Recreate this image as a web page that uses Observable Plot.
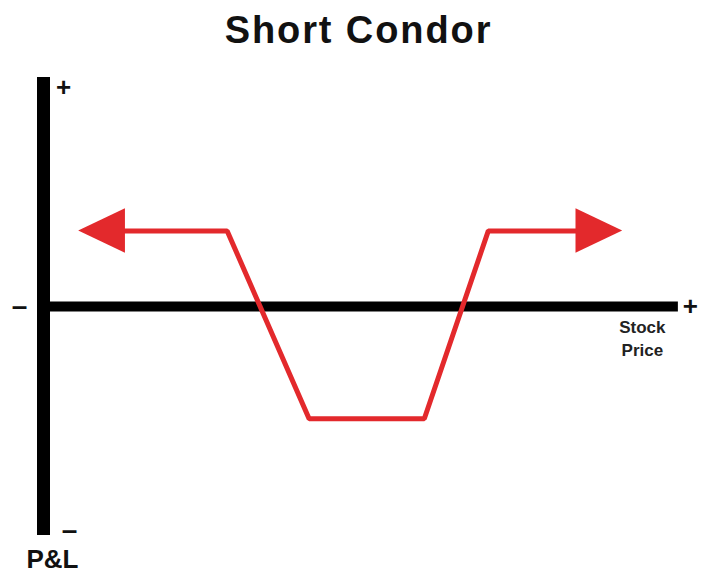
<!DOCTYPE html>
<html>
<head>
<meta charset="utf-8">
<script src="https://cdn.jsdelivr.net/npm/d3@7"></script>
<script src="https://cdn.jsdelivr.net/npm/@observablehq/plot@0.6"></script>
<style>
  html, body { margin: 0; padding: 0; background: #fff; }
  #title { height: 60px; line-height: 60px; text-align: center; font-family: "Liberation Sans", Arial, sans-serif; font-weight: bold; font-size: 38px; letter-spacing: 1.9px; color: #111; padding-left: 16px; }
</style>
</head>
<body>
<div id="title">Short Condor</div>
<div id="chart"></div>
<script>
// Payoff profile (stock price vs P&L, arbitrary units)
const price = [6, 28.7, 41.5, 59.5, 69.5, 90];
const pnl   = [0.33, 0.33, -0.49, -0.49, 0.33, 0.33];
// Axis extents
const priceDomain = [0, 100];
const pnlDomain = [-1, 1];
const axisEnd = 99.2;
// Axis labels
const labels = [
  {x: 0, y: 1, text: "+", dx: 20, dy: 10, size: 26},
  {x: 0, y: 0, text: "–", dx: -24, dy: 0, size: 28},
  {x: axisEnd, y: 0, text: "+", dx: 12, dy: 0, size: 26},
  {x: 0, y: -1, text: "–", dx: 26, dy: -5, size: 28},
  {x: 0, y: -1, text: "P&L", dx: 9, dy: 24, size: 26}
];
const stockLabel = ["Stock", "Price"];

const line = price.map((p, i) => ({price: p, pnl: pnl[i]}));

// Arrowheads at both ends of the payoff line
const headLen = 7.3, headHalf = 0.097;
const first = line[0], last = line[line.length - 1];
const leftHead = [
  {x: first.price - 0.5, y1: first.pnl, y2: first.pnl},
  {x: first.price - 0.5 + headLen, y1: first.pnl - headHalf, y2: first.pnl + headHalf}
];
const rightHead = [
  {x: last.price + 0.5 - headLen, y1: last.pnl - headHalf, y2: last.pnl + headHalf},
  {x: last.price + 0.5, y1: last.pnl, y2: last.pnl}
];
const red = "#e3292c";

const chart = Plot.plot({
  width: 701,
  height: 513,
  marginLeft: 43,
  marginRight: 18,
  marginTop: 17,
  marginBottom: 38,
  x: {domain: priceDomain, axis: null},
  y: {domain: pnlDomain, axis: null},
  style: {fontFamily: "'Liberation Sans', Arial, sans-serif", background: "#fff"},
  marks: [
    Plot.ruleY([0], {x1: -0.5, x2: axisEnd, stroke: "#000", strokeWidth: 10}),
    Plot.ruleX([0], {y1: pnlDomain[0], y2: pnlDomain[1], stroke: "#000", strokeWidth: 13}),
    Plot.line(line, {x: d => d.price + (d === first ? 5 : d === last ? -5 : 0), y: "pnl", stroke: red, strokeWidth: 5, strokeLinejoin: "miter", strokeLinecap: "butt"}),
    Plot.areaY(leftHead, {x: "x", y1: "y1", y2: "y2", fill: red}),
    Plot.areaY(rightHead, {x: "x", y1: "y1", y2: "y2", fill: red}),
    ...labels.map(l => Plot.text([l], {x: "x", y: "y", text: "text", dx: l.dx, dy: l.dy, fontSize: l.size, fontWeight: "bold", fill: "#111"})),
    Plot.text([stockLabel.join("\n")], {x: axisEnd, y: 0, text: d => d, dx: -36, dy: 31, fontSize: 17, fontWeight: "bold", lineHeight: 1.35, fill: "#222", style: {letterSpacing: "1px"}})
  ]
});
document.getElementById("chart").append(chart);
</script>
</body>
</html>
